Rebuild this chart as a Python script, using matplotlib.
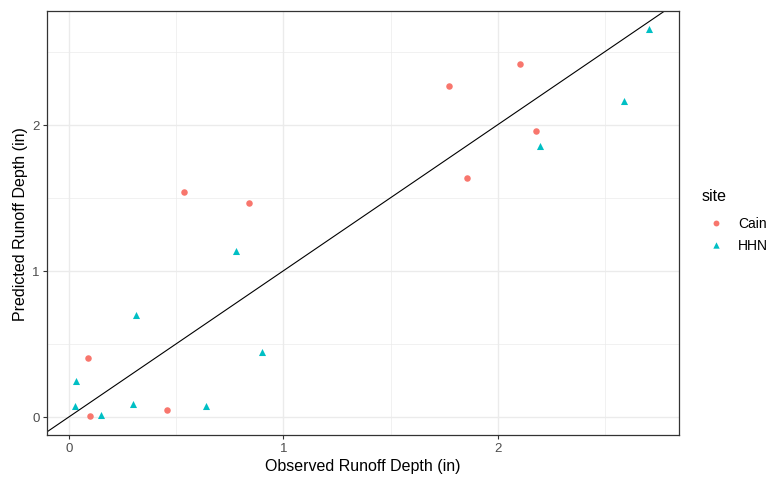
import matplotlib.pyplot as plt
import numpy as np

plt.rcParams['font.family'] = ['Liberation Sans', 'DejaVu Sans']

# observed vs predicted runoff depth (in)
cain_obs = [0.086, 0.095, 0.538, 0.840, 0.456, 1.772, 2.102, 2.178, 1.856]
cain_pred = [0.40, 0.003, 1.541, 1.464, 0.048, 2.267, 2.414, 1.955, 1.633]
hhn_obs = [0.033, 0.027, 0.149, 0.313, 0.296, 0.639, 0.779, 0.901, 2.708, 2.587, 2.196]
hhn_pred = [0.245, 0.071, 0.010, 0.699, 0.087, 0.071, 1.135, 0.443, 2.658, 2.160, 1.854]
sites = ['Cain', 'HHN']
colors = ['#F8766D', '#00BFC4']
ticks = [0, 1, 2]

fig = plt.figure(figsize=(7.67, 4.81), dpi=100)
ax = fig.add_axes([0.0609, 0.0942, 0.8241, 0.8815])

ax.scatter(cain_obs, cain_pred, s=22, marker='o', color=colors[0], label=sites[0], zorder=3, linewidths=0)
ax.scatter(hhn_obs, hhn_pred, s=26, marker='^', color=colors[1], label=sites[1], zorder=3, linewidths=0)
ax.axline((0, 0), slope=1, color='black', lw=0.8, zorder=2)

ax.set_xlim(-0.105, 2.845)
ax.set_ylim(-0.123, 2.781)
ax.set_xticks(ticks)
ax.set_yticks(ticks)
ax.set_xticks([0.5, 1.5, 2.5], minor=True)
ax.set_yticks([0.5, 1.5, 2.5], minor=True)
ax.grid(True, which='major', color='#EBEBEB', lw=1.0, zorder=0)
ax.grid(True, which='minor', color='#EBEBEB', lw=0.5, zorder=0)
ax.set_axisbelow(True)
ax.tick_params(which='major', length=3, width=0.8, color='#333333', labelcolor='#4D4D4D', labelsize=9.5, pad=2)
ax.tick_params(which='minor', length=0)
for sp in ax.spines.values():
    sp.set_color('#333333')
    sp.set_linewidth(0.9)

ax.set_xlabel('Observed Runoff Depth (in)', fontsize=11.5, labelpad=3)
ax.set_ylabel('Predicted Runoff Depth (in)', fontsize=11.5, labelpad=3)

leg = ax.legend(title='site', loc='upper left', bbox_to_anchor=(0.899, 0.633),
                bbox_transform=fig.transFigure, frameon=False, fontsize=10,
                title_fontsize=11.5, handletextpad=0.6, labelspacing=0.62,
                markerscale=0.9)
leg._legend_box.align = 'left'
leg._legend_box.sep = 9

fig.savefig('out.png', dpi=100)
